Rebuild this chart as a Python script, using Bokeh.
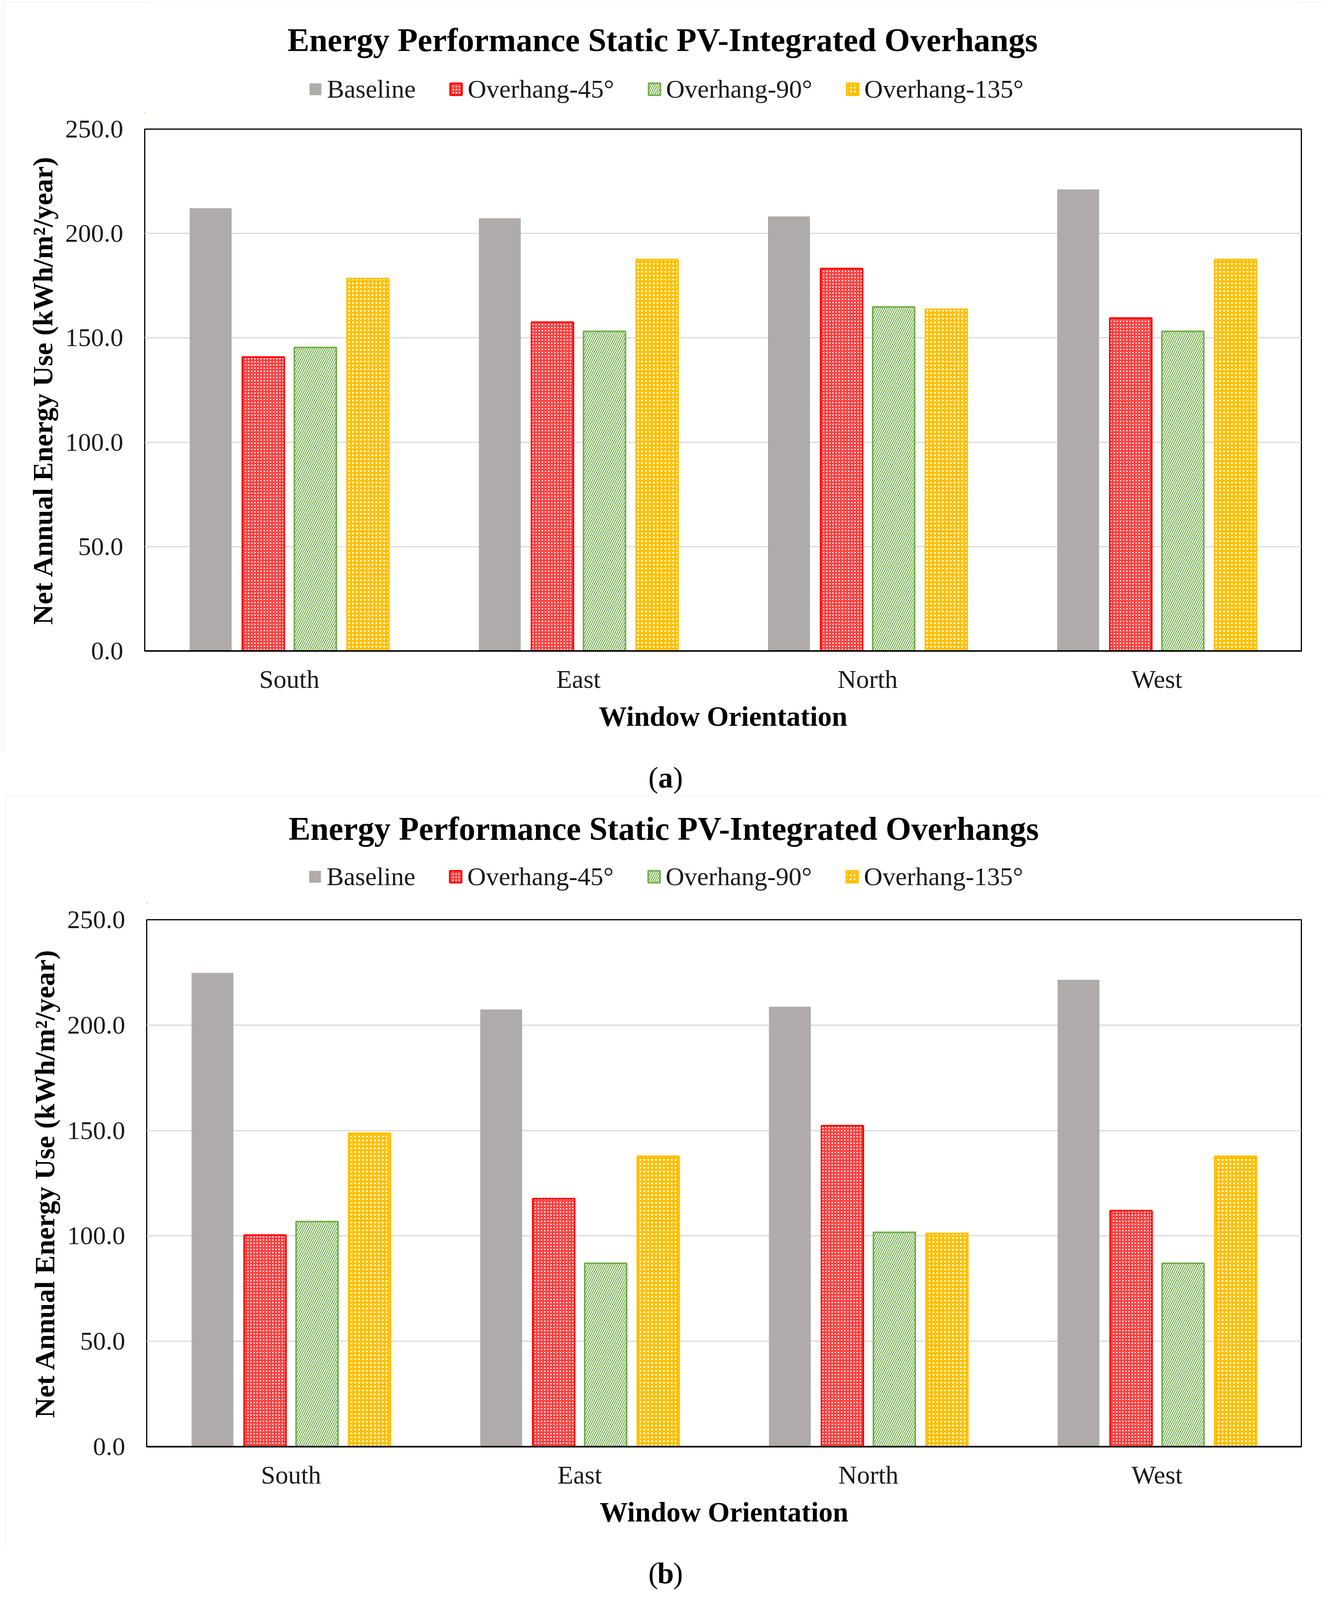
from bokeh.plotting import figure
from bokeh.models import (FactorRange, Range1d, FixedTicker, NumeralTickFormatter,
                          Legend, LegendItem, Label, ColumnDataSource)
from bokeh.layouts import column
from bokeh.transform import dodge
from bokeh.embed import file_html
from bokeh.resources import INLINE

# ---------------- data ----------------
categories = ["South", "East", "North", "West"]
series_names = ["Baseline", "Overhang-45°", "Overhang-90°", "Overhang-135°"]
y_ticks = [0, 50, 100, 150, 200, 250]

a_baseline = [212.1, 207.3, 208.2, 221.1]
a_overhang45 = [140.8, 157.5, 183.2, 159.5]
a_overhang90 = [145.4, 153.1, 164.8, 153.1]
a_overhang135 = [178.4, 187.5, 163.7, 187.5]

b_baseline = [224.8, 207.4, 208.7, 221.5]
b_overhang45 = [100.4, 117.7, 152.3, 112.0]
b_overhang90 = [106.8, 87.0, 101.7, 87.0]
b_overhang135 = [148.7, 137.8, 101.2, 137.8]

title_text = "Energy Performance Static PV-Integrated Overhangs"
x_title = "Window Orientation"
y_title = "Net Annual Energy Use (kWh/m\u00b2/year)"
captions = ["a", "b"]

FONT = "Liberation Serif"

styles = [
    dict(fill_color="#AFABAB", line_color=None),
    dict(fill_color="#FF4040", line_color="#FF0000", line_width=4,
         hatch_pattern="dot", hatch_color="white", hatch_scale=8, hatch_alpha=0.95),
    dict(fill_color="white", line_color="#70AD47", line_width=4,
         hatch_pattern="right_diagonal_line", hatch_color="#70AD47",
         hatch_scale=11, hatch_weight=2.5),
    dict(fill_color="#FFC000", line_color="#FFC000", line_width=4,
         hatch_pattern="dot", hatch_color="white", hatch_scale=10),
]
offsets = [-0.272, -0.09, 0.09, 0.272]
BAR_W = 0.145


def blank_fig(width, height, x0=0, x1=None):
    f = figure(x_range=Range1d(x0, width if x1 is None else x1), y_range=Range1d(0, height),
               width=width, height=height, output_backend="svg",
               toolbar_location=None, min_border=0,
               x_axis_type=None, y_axis_type=None,
               background_fill_color="white", border_fill_color="white")
    f.grid.visible = False
    f.outline_line_color = None
    return f


def make_header(width, height, fl, fr, title_y, legend_x, legend_y):
    # the header's frame is aligned with the chart frame below it (fl .. width-fr)
    h = blank_fig(width, height, fl, width - fr)
    h.add_layout(Label(x=width / 2, y=title_y, text=title_text, text_align="center",
                       text_baseline="middle", text_font=FONT,
                       text_font_size="84px", text_font_style="bold",
                       text_color="black"))
    items = []
    for i, name in enumerate(series_names):
        # off-canvas proxy bar, only used to draw the legend swatch
        r = h.vbar(x=[-5000], top=[1], width=1, **styles[i])
        items.append(LegendItem(label=name, renderers=[r]))
    legend = Legend(items=items, orientation="horizontal",
                    location=(legend_x - fl, legend_y),
                    label_text_font=FONT, label_text_font_size="66px",
                    label_text_color="#1a1a1a",
                    glyph_width=38, glyph_height=38, label_standoff=11,
                    spacing=84, padding=0, margin=0,
                    border_line_color=None, background_fill_alpha=0)
    h.add_layout(legend, "center")
    return h


def make_caption(letter, width, height, cy):
    c = blank_fig(width, height)
    cx = width / 2
    common = dict(y=cy, text_baseline="middle", text_font=FONT,
                  text_font_size="76px", text_color="black")
    c.add_layout(Label(x=cx - 19, text="(", text_align="right", **common))
    c.add_layout(Label(x=cx, text=letter, text_align="center",
                       text_font_style="bold", **common))
    c.add_layout(Label(x=cx + 19, text=")", text_align="left", **common))
    return c


def make_main(vals, width, height, fl, fr, ft, fb):
    src = ColumnDataSource(dict(cat=categories, s0=vals[0], s1=vals[1], s2=vals[2], s3=vals[3]))
    p = figure(x_range=FactorRange(*categories), y_range=Range1d(0, 250),
               width=width, height=height, output_backend="svg", toolbar_location=None,
               min_border_left=fl, min_border_right=fr, min_border_top=ft,
               min_border_bottom=fb, background_fill_color="white",
               border_fill_color="white")
    for i, name in enumerate(series_names):
        p.vbar(x=dodge("cat", offsets[i], range=p.x_range), top="s%d" % i,
               width=BAR_W, source=src, **styles[i])

    p.yaxis.ticker = FixedTicker(ticks=y_ticks)
    p.yaxis.formatter = NumeralTickFormatter(format="0.0")
    for ax in (p.xaxis[0], p.yaxis[0]):
        ax.major_tick_in = 0
        ax.major_tick_out = 0
        ax.minor_tick_in = 0
        ax.minor_tick_out = 0
        ax.major_label_text_font = FONT
        ax.major_label_text_font_size = "66px"
        ax.major_label_text_color = "#1a1a1a"
        ax.axis_label_text_font = FONT
        ax.axis_label_text_font_size = "72px"
        ax.axis_label_text_font_style = "bold"
        ax.axis_label_text_color = "black"
    p.yaxis.axis_line_color = None
    p.yaxis.major_label_standoff = 55
    p.yaxis.axis_label = y_title
    p.yaxis.axis_label_standoff = 14
    p.xaxis.axis_line_color = "black"
    p.xaxis.axis_line_width = 4
    p.xaxis.major_label_standoff = 35
    p.xaxis.axis_label = x_title
    p.xaxis.axis_label_standoff = 16

    p.xgrid.grid_line_color = None
    p.ygrid.grid_line_color = "#D9D9D9"
    p.ygrid.grid_line_width = 3
    p.outline_line_color = "black"
    p.outline_line_width = 3
    return p


BOX = {"outline": "3px solid #D9D9D9", "outline-offset": "-3px"}

# main figures get 40px of top border so the top tick label "250.0" is not clipped
h_a = make_header(3375, 284, 362, 52, 188, 780, 24)
p_a = make_main([a_baseline, a_overhang45, a_overhang90, a_overhang135],
                3375, 1638, 362, 52, 40, 262)
box_a = column(h_a, p_a, spacing=0, styles=BOX, margin=(6, 0, 0, 8))

h_b = make_header(3369, 277, 361, 52, 193, 773, 32)
p_b = make_main([b_baseline, b_overhang45, b_overhang90, b_overhang135],
                3369, 1648, 361, 52, 40, 259)
box_b = column(h_b, p_b, spacing=0, styles=BOX, margin=(0, 0, 0, 14))

cap_a = make_caption(captions[0], 3375, 109, 48)
cap_a.margin = (0, 0, 0, 16)
cap_b = make_caption(captions[1], 3375, 118, 54)
cap_b.margin = (0, 0, 0, 16)

layout = column(box_a, cap_a, box_b, cap_b, spacing=0)
open("out.html", "w").write(file_html(layout, INLINE))
